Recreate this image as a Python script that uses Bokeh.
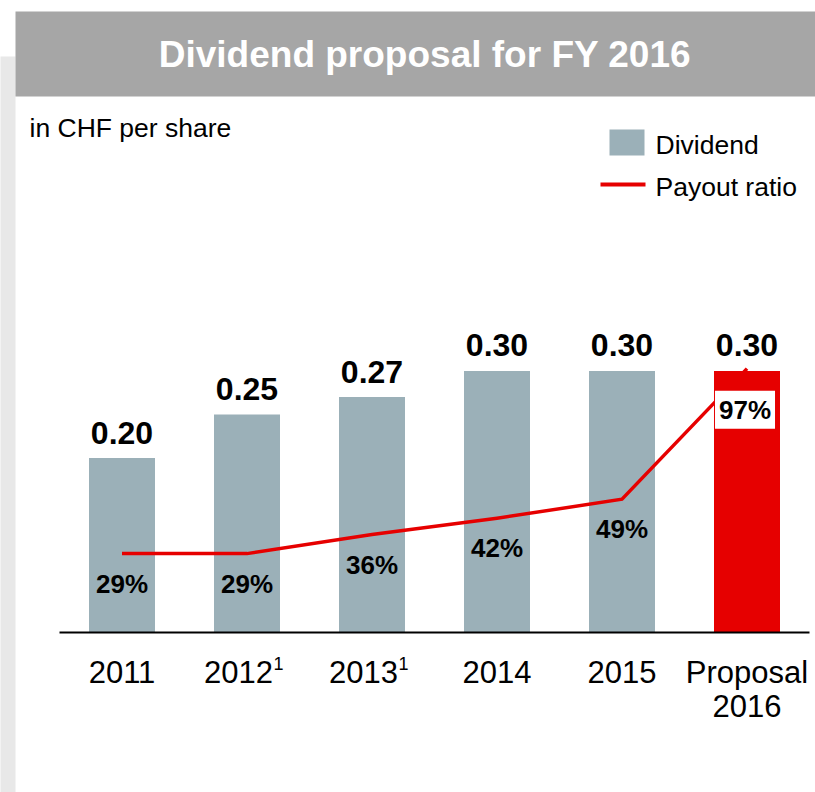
from bokeh.plotting import figure
from bokeh.models import Range1d
from bokeh.core.properties import value
from bokeh.embed import file_html
from bokeh.resources import INLINE

# ---- data ----
categories = ["2011", "2012", "2013", "2014", "2015", "Proposal\n2016"]
footnotes = ["", "1", "1", "", "", ""]
dividend = [0.20, 0.25, 0.27, 0.30, 0.30, 0.30]
dividend_labels = ["0.20", "0.25", "0.27", "0.30", "0.30", "0.30"]
payout = [29, 29, 36, 42, 49, 97]
payout_labels = ["29%", "29%", "36%", "42%", "49%", "97%"]
title_text = "Dividend proposal for FY 2016"
unit_text = "in CHF per share"
legend_labels = ["Dividend", "Payout ratio"]

# ---- styles / geometry ----
FONT = "Liberation Sans"
GREY = "#9bb0b8"
RED = "#e60000"
HEADER = "#a6a6a6"
STRIP = "#e8e8e8"
W, H = 815, 792
CAT_PX = 125.0      # pixels per category
X0_PX = 121.5       # pixel x of first category centre
BASE_PX = 632.0     # pixel y (from top) of the zero line
CHF_PX = 872.0      # pixels per CHF
PCT_PX = 2.72       # pixels per percent point

xr = Range1d(-X0_PX / CAT_PX, (W - X0_PX) / CAT_PX)
yr = Range1d(-(H - BASE_PX) / CHF_PX, BASE_PX / CHF_PX)


def px2x(px):
    return xr.start + px / CAT_PX


def px2y(py):
    return (BASE_PX - py) / CHF_PX


p = figure(width=W, height=H, x_range=xr, y_range=yr,
           output_backend="svg", toolbar_location=None,
           x_axis_location=None, y_axis_location=None,
           min_border=0, outline_line_color=None,
           background_fill_color="white", border_fill_color="white")
p.extra_y_ranges = {"pct": Range1d(-(H - BASE_PX) / PCT_PX, BASE_PX / PCT_PX)}
for g in p.grid:
    g.visible = False

# decorations
p.quad(left=[px2x(-2)], right=[px2x(15)], top=[px2y(56)], bottom=[px2y(800)],
       fill_color=STRIP, line_color=None)
p.quad(left=[px2x(15)], right=[px2x(820)], top=[px2y(11)], bottom=[px2y(96)],
       fill_color=HEADER, line_color=None)
p.text(x=[px2x(424.5)], y=[px2y(53.5)], text=[title_text],
       text_font=value(FONT), text_font_style="bold", text_font_size="37px",
       text_color="white", text_align="center", text_baseline="middle")
p.text(x=[px2x(29)], y=[px2y(127)], text=[unit_text],
       text_font=value(FONT), text_font_size="26.5px", text_color="black",
       text_align="left", text_baseline="middle")

# legend
p.quad(left=[px2x(609)], right=[px2x(644)], top=[px2y(129)], bottom=[px2y(155)],
       fill_color=GREY, line_color=None)
p.segment(x0=[px2x(600)], x1=[px2x(645)], y0=[px2y(184)], y1=[px2y(184)],
          line_color=RED, line_width=4)
p.text(x=[px2x(655), px2x(655)], y=[px2y(144), px2y(186)], text=legend_labels,
       text_font=value(FONT), text_font_size="26.5px", text_color="black",
       text_align="left", text_baseline="middle")

idx = list(range(len(categories)))
bar_colors = [GREY] * (len(categories) - 1) + [RED]

# bars
p.vbar(x=idx, top=dividend, bottom=0, width=66 / CAT_PX,
       fill_color=bar_colors, line_color=None)

# baseline
p.segment(x0=[-0.5], x1=[len(categories) - 0.5], y0=[0], y1=[0],
          line_color="black", line_width=2)

# payout line
p.line(x=idx, y=payout, y_range_name="pct", line_color=RED, line_width=3.5,
       line_join="miter")

# value labels
p.text(x=idx, y=dividend, text=dividend_labels, y_offset=-25.5,
       text_font=value(FONT), text_font_style="bold", text_font_size="32px",
       text_color="black", text_align="center", text_baseline="middle")

# payout labels
p.text(x=idx[:-1], y=payout[:-1], text=payout_labels[:-1], y_range_name="pct",
       y_offset=30, text_font=value(FONT), text_font_style="bold",
       text_font_size="26px", text_color="black", text_align="center",
       text_baseline="middle")
p.text(x=idx[-1:], y=payout[-1:], text=payout_labels[-1:], y_range_name="pct",
       x_offset=-2, y_offset=41, text_font=value(FONT), text_font_style="bold",
       text_font_size="26px", text_color="black", text_align="center",
       text_baseline="middle", background_fill_color="white", padding=4)

# category labels (first and second lines, footnote superscripts)
lines = [c.split("\n") for c in categories]
first = [ln[0] for ln in lines]
cat_xoff = [-8.5 if f else 0 for f in footnotes]
p.text(x=idx, y=[0] * len(idx), text=first, x_offset=cat_xoff, y_offset=39.5,
       text_font=value(FONT), text_font_size="31px", text_color="black",
       text_align="center", text_baseline="middle")
sec_i = [i for i, ln in enumerate(lines) if len(ln) > 1]
p.text(x=sec_i, y=[0] * len(sec_i), text=[lines[i][1] for i in sec_i],
       y_offset=73.5, text_font=value(FONT), text_font_size="31px",
       text_color="black", text_align="center", text_baseline="middle")
fn_i = [i for i, f in enumerate(footnotes) if f]
p.text(x=fn_i, y=[0] * len(fn_i), text=[footnotes[i] for i in fn_i],
       x_offset=26.5, y_offset=31, text_font=value(FONT), text_font_size="18px",
       text_color="black", text_align="left", text_baseline="middle")

open("out.html", "w").write(file_html(p, INLINE))
